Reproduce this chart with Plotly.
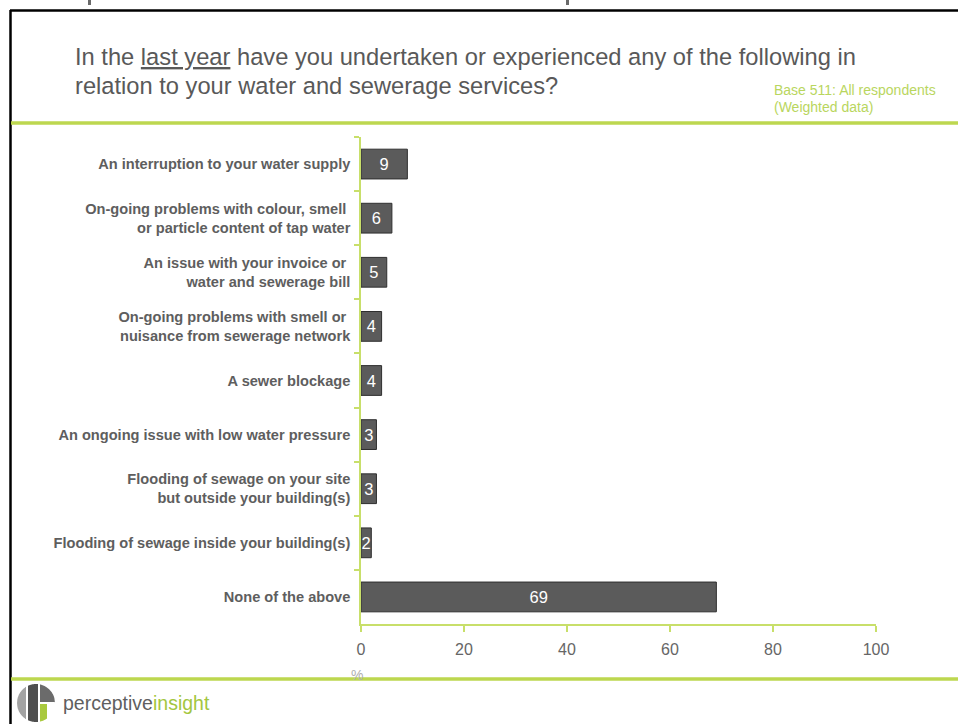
import numpy as np
import plotly.graph_objects as go

# Survey results (% of respondents), listed top to bottom
categories = [
    "An interruption to your water supply",
    "On-going problems with colour, smell\u00a0<br>or particle content of tap water",
    "An issue with your invoice or\u00a0<br>water and sewerage bill",
    "On-going problems with smell or\u00a0<br>nuisance from sewerage network",
    "A sewer blockage",
    "An ongoing issue with low water pressure",
    "Flooding of sewage on your site<br>but outside your building(s)",
    "Flooding of sewage inside your building(s)",
    "None of the above",
]
values = [9, 6, 5, 4, 4, 3, 3, 2, 69]
x_ticks = [0, 20, 40, 60, 80, 100]

W, H = 958, 724
PL, PR, PT, PB = 361, 876, 137, 624  # plot area in pixels

GREEN = "#bdd74f"
AXIS_GREEN = "#c8df6a"
GREY_TXT = "#595959"
FONT = "Arial, Liberation Sans, sans-serif"


def px(xp):
    return (xp - PL) / (PR - PL)


def py(yp):
    return (PB - yp) / (PB - PT)


fig = go.Figure(
    go.Bar(
        x=values,
        y=categories,
        orientation="h",
        width=0.55,
        marker=dict(color="#5b5b5b", line=dict(color="#2e2e2e", width=1)),
        text=[str(v) for v in values],
        textposition="inside",
        insidetextanchor="middle",
        constraintext="none",
        textangle=0,
        textfont=dict(family=FONT, size=16.5, color="white"),
        cliponaxis=False,
        hoverinfo="skip",
    )
)

fig.update_layout(
    width=W,
    height=H,
    margin=dict(l=PL, r=W - PR, t=PT, b=H - PB),
    paper_bgcolor="white",
    plot_bgcolor="white",
    showlegend=False,
    font=dict(family=FONT, color=GREY_TXT),
)

fig.update_xaxes(
    range=[0, 100],
    tickvals=x_ticks,
    ticks="outside",
    ticklen=6,
    tickcolor=AXIS_GREEN,
    tickwidth=1.5,
    showline=True,
    linecolor=AXIS_GREEN,
    linewidth=1.5,
    showgrid=False,
    zeroline=False,
    tickfont=dict(family=FONT, size=16, color="#666666"),
    ticklabelstandoff=4,
)

fig.update_yaxes(
    autorange="reversed",
    ticks="outside",
    tickson="boundaries",
    ticklen=5,
    tickcolor=AXIS_GREEN,
    tickwidth=1.5,
    showline=True,
    linecolor=AXIS_GREEN,
    linewidth=1.5,
    showgrid=False,
    tickfont=dict(family=FONT, size=14.6, color="#5e5e5e", weight="bold"),
    ticklabelstandoff=6,
)

shapes = []
# black frame (top and left edges)
shapes.append(dict(type="line", xref="paper", yref="paper", x0=px(10), x1=px(958), y0=py(10.5), y1=py(10.5),
                   line=dict(color="black", width=2.5)))
shapes.append(dict(type="line", xref="paper", yref="paper", x0=px(10.5), x1=px(10.5), y0=py(10), y1=py(724),
                   line=dict(color="black", width=2.5)))
# descenders of the heading sitting above the frame
for gx in (88, 566):
    shapes.append(dict(type="rect", xref="paper", yref="paper", x0=px(gx), x1=px(gx + 3), y0=py(0), y1=py(5),
                       fillcolor="#6a6a6a", line=dict(width=0)))
# green separator rules
for gy in (123, 679):
    shapes.append(dict(type="line", xref="paper", yref="paper", x0=px(11), x1=px(958), y0=py(gy), y1=py(gy),
                       line=dict(color=GREEN, width=3.5)))

# logo mark: circle split into bands
cx, cy, r = 36, 703, 19


def circle_band(xa, xb, ya=None, yb=None):
    xs = np.linspace(xa, xb, 24)
    top = cy - np.sqrt(np.maximum(r ** 2 - (xs - cx) ** 2, 0))
    bot = cy + np.sqrt(np.maximum(r ** 2 - (xs - cx) ** 2, 0))
    if ya is not None:
        top = np.maximum(top, ya)
    if yb is not None:
        bot = np.minimum(bot, yb)
    pts = list(zip(xs, top)) + list(zip(xs[::-1], bot[::-1]))
    return "M " + " L ".join(f"{px(a):.5f},{py(b):.5f}" for a, b in pts) + " Z"


logo_parts = [
    (circle_band(17, 26), "#a3a3a3"),
    (circle_band(28, 38), "#4f4f4f"),
    (circle_band(40, 55, yb=702), "#6b6b6b"),
    (circle_band(40, 47, ya=704), "#a9c93e"),
]
for path, col in logo_parts:
    shapes.append(dict(type="path", xref="paper", yref="paper", path=path, fillcolor=col, line=dict(width=0)))

fig.update_layout(shapes=shapes)

annotations = [
    dict(text="In the <u>last year</u> have you undertaken or experienced any of the following in",
         x=px(73), y=py(57), xanchor="left", yanchor="middle",
         font=dict(family=FONT, size=23.7, color=GREY_TXT)),
    dict(text="relation to your water and sewerage services?",
         x=px(73), y=py(86), xanchor="left", yanchor="middle",
         font=dict(family=FONT, size=23.7, color=GREY_TXT)),
    dict(text="Base 511: All respondents",
         x=px(772), y=py(90), xanchor="left", yanchor="middle",
         font=dict(family=FONT, size=14, color="#b9d65e")),
    dict(text="(Weighted data)",
         x=px(772), y=py(107), xanchor="left", yanchor="middle",
         font=dict(family=FONT, size=14, color="#b9d65e")),
    dict(text="%", x=px(357), y=py(675), xanchor="center", yanchor="middle",
         font=dict(family=FONT, size=14, color="#b0b0b0")),
    dict(text="perceptive<span style='color:#a3c640'>insight</span>",
         x=px(61), y=py(703), xanchor="left", yanchor="middle",
         font=dict(family=FONT, size=19.5, color="#5f5f5f")),
]
for a in annotations:
    a.update(xref="paper", yref="paper", showarrow=False)
fig.update_layout(annotations=annotations)

fig.write_html("out.html")
